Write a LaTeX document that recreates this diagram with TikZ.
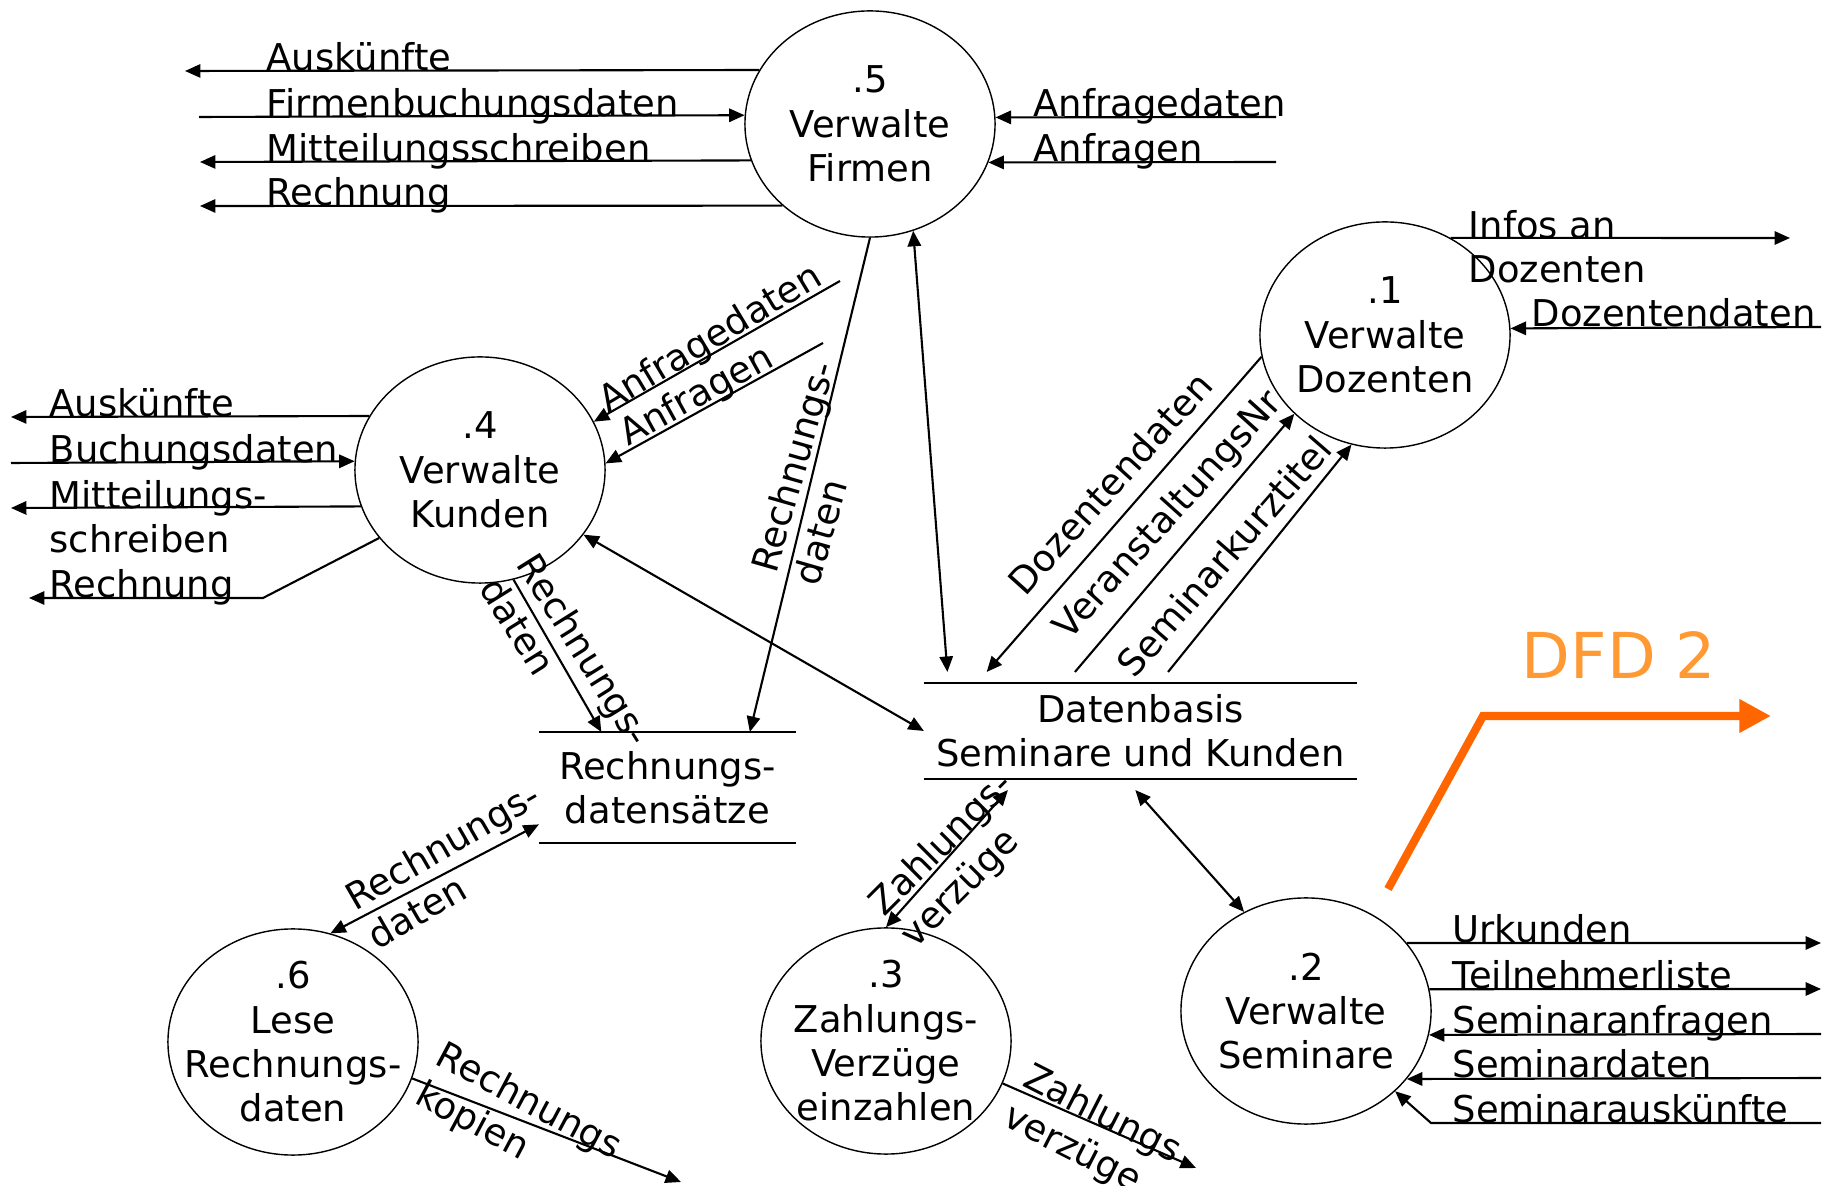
\documentclass[tikz,border=0pt]{standalone}
\usepackage{fontspec}
\setmainfont{DejaVu Sans}
\usepackage{tikz}
\usetikzlibrary{arrows.meta, shapes.geometric}
\definecolor{dfdtext}{HTML}{FF9933}
\definecolor{dfdline}{HTML}{FF6600}
\begin{document}
\begin{tikzpicture}
        [x=0.01cm, y=-0.01cm,
        font=\fontsize{10.5}{12.6}\selectfont,
        proc/.style={ellipse, draw=black, fill=white, thin, inner sep=-20pt,
          minimum width=2.5cm, minimum height=2.26cm, align=center},
        store/.style={inner sep=0pt, outer sep=0pt, align=center},
        sline/.style={thick},
        lbl/.style={anchor=base west, inner sep=0pt, align=left},
        tlbl/.style={inner sep=0pt, align=left},
        arr/.style={->,>={Triangle[length=4.4pt,width=3.8pt]},semithick},
        barr/.style={<->,>={Triangle[length=4.4pt,width=3.8pt]},semithick},
        dfd/.style={->,>={Triangle[length=9pt,width=9pt]},line width=2.3pt,draw=dfdline}]
        \useasboundingbox (0, 0) rectangle (1836, 1186);
        \node (DB) at (1140.5, 731) [store, minimum width=4.33cm, minimum height=1.18cm]
           {Datenbasis\\Seminare und Kunden};
        \draw[sline] ([yshift=-0.11cm]DB.north west) -- ([yshift=-0.11cm]DB.north east);
        \draw[sline] ([yshift=0.11cm]DB.south west) -- ([yshift=0.11cm]DB.south east);
        \node (RD) at (667.5, 787.5) [store, minimum width=2.57cm, minimum height=1.11cm]
           {Rechnungs-\\datensätze};
        \draw[sline] (RD.north west) -- (RD.north east);
        \draw[sline] (RD.south west) -- (RD.south east);
        \node (P5) at (870, 124) [proc] {.5\\Verwalte\\Firmen};
        \node (P4) at (480, 470) [proc] {.4\\Verwalte\\Kunden};
        \node (tVer) at (1169, 516) [tlbl, rotate=48] {VeranstaltungsNr};
        \node (P1) at (1385, 335) [proc] {.1\\Verwalte\\Dozenten};
        \node (P2) at (1306, 1011) [proc] {.2\\Verwalte\\Seminare};
        \node (P3) at (886, 1041) [proc] {.3\\Zahlungs-\\Verzüge\\einzahlen};
        \node (P6) at (293, 1042) [proc] {.6\\Lese\\Rechnungs-\\daten};
        \coordinate (o5a) at (185, 71);
        \coordinate (o5b) at (199, 117);
        \coordinate (o5c) at (200, 162);
        \coordinate (o5d) at (200, 206);
        \coordinate (o5e) at (1276, 117);
        \coordinate (o5f) at (1276, 162);
        \coordinate (o1a) at (1790, 238);
        \coordinate (o1b) at (1821, 327);
        \coordinate (o4a) at (11, 417);
        \coordinate (o4b) at (11, 463);
        \coordinate (o4c) at (11, 508);
        \coordinate (o4d) at (263, 598);
        \coordinate (o4e) at (29, 598);
        \coordinate (o4f) at (840, 281);
        \coordinate (o4g) at (823, 343);
        \coordinate (o3a) at (1196, 1168);
        \coordinate (o6a) at (681, 1182);
        \coordinate (o2a) at (1821, 943);
        \coordinate (o2b) at (1821, 989);
        \coordinate (o2c) at (1821, 1034);
        \coordinate (o2d) at (1821, 1078);
        \coordinate (o2e) at (1821, 1123);
        \coordinate (o2f) at (1431, 1123);
        \path (P5.154.4) edge[arr] (o5a);
        \path (o5b) edge[arr] (P5.176.8);
        \path (P5.197.9) edge[arr] (o5c);
        \path (P5.223.6) edge[arr] (o5d);
        \path (o5e) edge[arr] (P5.3.2);
        \path (o5f) edge[arr] (P5.342.1);
        \path (P5.south) edge[arr] (RD.34.3);
        \path (P5.292.5) edge[barr] (DB.163);
        \path (P1.56.6) edge[arr] (o1a);
        \path (o1b) edge[arr] (P1.3.7);
        \path (P1.190.4) edge[arr] (DB.159.8);
        \path (DB.138.8) edge[arr] (P1.221.8);
        \path (DB.65.8) edge[arr] (P1.253.7);
        \path (P4.154.4) edge[arr] (o4a);
        \path (o4b) edge[arr] (P4.176.8);
        \path (P4.197.9) edge[arr] (o4c);
        \draw[arr] (P4.214.9) -- (o4d) -- (o4e);
        \path (o4f) edge[arr] (P4.23.7);
        \path (o4g) edge[arr] (P4.3.2);
        \path (P4.287) edge[arr] (RD.140.6);
        \path (P4.328.4) edge[barr] (DB.180.3);
        \path (DB.204.7) edge[barr] (P3.north);
        \path (P3.340.3) edge[arr] (o3a);
        \path (RD.196.3) edge[barr] (P6.71.6);
        \path (P6.343.1) edge[arr] (o6a);
        \path (DB.265.6) edge[barr] (P2.122.9);
        \path (P2.34.3) edge[arr] (o2a);
        \path (P2.10.2) edge[arr] (o2b);
        \path (o2c) edge[arr] (P2.349.4);
        \path (o2d) edge[arr] (P2.326.3);
        \draw[arr] (o2e) -- (o2f) -- (P2.318.3);
        \node (tA5) at (266, 71) [lbl] {Auskünfte};
        \node (tF5) at (266, 117) [lbl] {Firmenbuchungsdaten};
        \node (tM5) at (266, 162) [lbl] {Mitteilungsschreiben};
        \node (tR5) at (266, 206) [lbl] {Rechnung};
        \node (tAd5) at (1033, 117) [lbl] {Anfragedaten};
        \node (tAn5) at (1033, 162) [lbl] {Anfragen};
        \node (tI1) at (1468, 282.5) [lbl] {Infos an\\Dozenten};
        \node (tD1) at (1531, 327) [lbl] {Dozentendaten};
        \node (tA4) at (49, 417) [lbl] {Auskünfte};
        \node (tB4) at (49, 463) [lbl] {Buchungsdaten};
        \node (tM4) at (49, 552.5) [lbl] {Mitteilungs-\\schreiben};
        \node (tR4) at (49, 598) [lbl] {Rechnung};
        \node (tU2) at (1452, 943) [lbl] {Urkunden};
        \node (tT2) at (1452, 989) [lbl] {Teilnehmerliste};
        \node (tSa2) at (1452, 1034) [lbl] {Seminaranfragen};
        \node (tSd2) at (1452, 1078) [lbl] {Seminardaten};
        \node (tSk2) at (1452, 1123) [lbl] {Seminarauskünfte};
        \node (tAd4) at (711, 340) [tlbl, rotate=31] {Anfragedaten};
        \node (tAn4) at (697, 397) [tlbl, rotate=29] {Anfragen};
        \node (tRd5) at (814, 473) [tlbl, rotate=74] {Rechnungs-\\daten};
        \node (tRd4) at (566, 661) [tlbl, rotate=-58] {Rechnungs-\\daten};
        \node (tDoz) at (1110, 483) [tlbl, rotate=48] {Dozentendaten};
        \node (tSem) at (1224, 556) [tlbl, rotate=49] {Seminarkurztitel};
        \node (tRd6) at (453, 865) [tlbl, rotate=30] {Rechnungs-\\daten};
        \node (tRk6) at (518, 1122) [tlbl, rotate=-28] {Rechnungs\\kopien};
        \node (tZv3) at (958, 861) [tlbl, rotate=45] {Zahlungs-\\verzüge};
        \node (tZr3) at (1092, 1135) [tlbl, rotate=-27] {Zahlungs\\verzüge};
        \coordinate (d1) at (1388, 889);
        \coordinate (d2) at (1483, 716);
        \coordinate (d3) at (1771, 716);
        \draw[dfd] (d1) -- (d2) -- (d3);
        \node (DFD) at (1619, 655) [text=dfdtext, font=\fontsize{18}{21}\selectfont] {DFD 2};
     \end{tikzpicture}
\end{document}
